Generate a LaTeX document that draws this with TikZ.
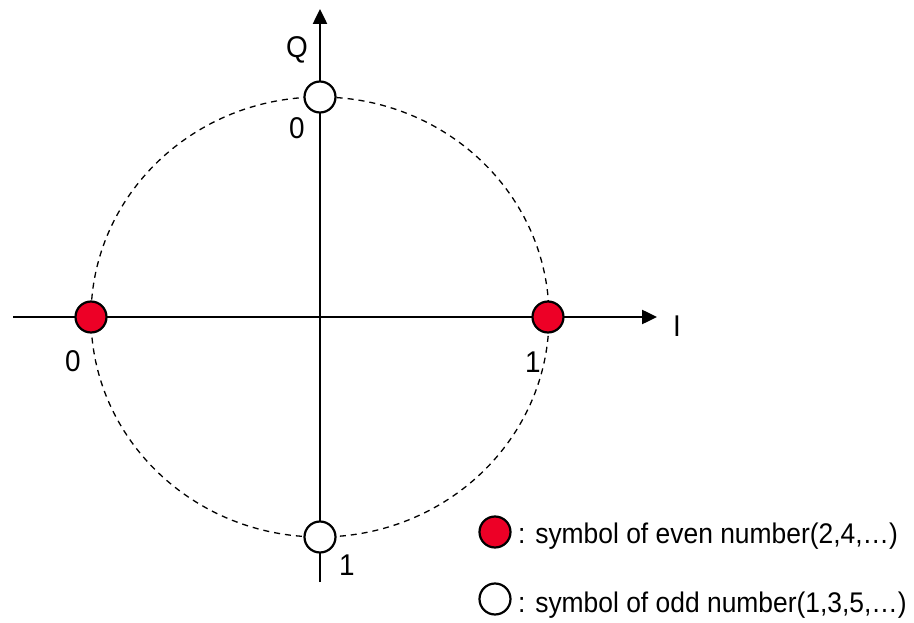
\documentclass[tikz,border=0pt]{standalone}
\usepackage{fontspec}
\setmainfont{Liberation Sans}[FakeStretch=0.93]
\usetikzlibrary{arrows.meta}
\definecolor{symred}{RGB}{237,0,38}
\begin{document}
\begin{tikzpicture}[x=1pt,y=-1pt,
  axis/.style={line width=2.5pt,-{Triangle[length=15pt,width=14pt]}},
  sym/.style={circle,draw,line width=2.2pt,minimum size=31pt,inner sep=0pt},
  evensym/.style={sym,fill=symred},
  oddsym/.style={sym,fill=white},
  lbl/.style={font=\fontsize{30}{34}\selectfont,inner sep=0pt},
  leg/.style={font=\fontsize{28.4}{32}\selectfont,inner sep=0pt,anchor=base west}]
\useasboundingbox (0,0) rectangle (914,623);
\coordinate (xs) at (13,317);
\coordinate (xe) at (657,317);
\coordinate (ys) at (320,582);
\coordinate (ye) at (320,9);
\draw[dashed,line width=1.3pt,dash pattern=on 6pt off 5pt] (320,317) ellipse [x radius=229pt,y radius=220pt];
\draw[axis] (xs) -- (xe);
\draw[axis] (ys) -- (ye);
\node[evensym] (e0) at (91,317) {};
\node[evensym] (e1) at (548,317) {};
\node[oddsym] (o0) at (320,97) {};
\node[oddsym] (o1) at (320,537) {};
\node[lbl] (q) at (297,50) {Q};
\node[lbl] (i) at (677,326) {I};
\node[lbl] (l0t) at (297,128) {0};
\node[lbl] (l0l) at (73,361) {0};
\node[lbl] (l1r) at (533,362) {1};
\node[lbl] (l1b) at (347,565) {1};
\node[evensym] (legE) at (495,532) {};
\node[oddsym] (legO) at (495,599) {};
\node[leg] (legEt) at (518,543) {: symbol of even number(2,4,…)};
\node[leg] (legOt) at (518,612) {: symbol of odd number(1,3,5,…)};
\end{tikzpicture}
\end{document}
